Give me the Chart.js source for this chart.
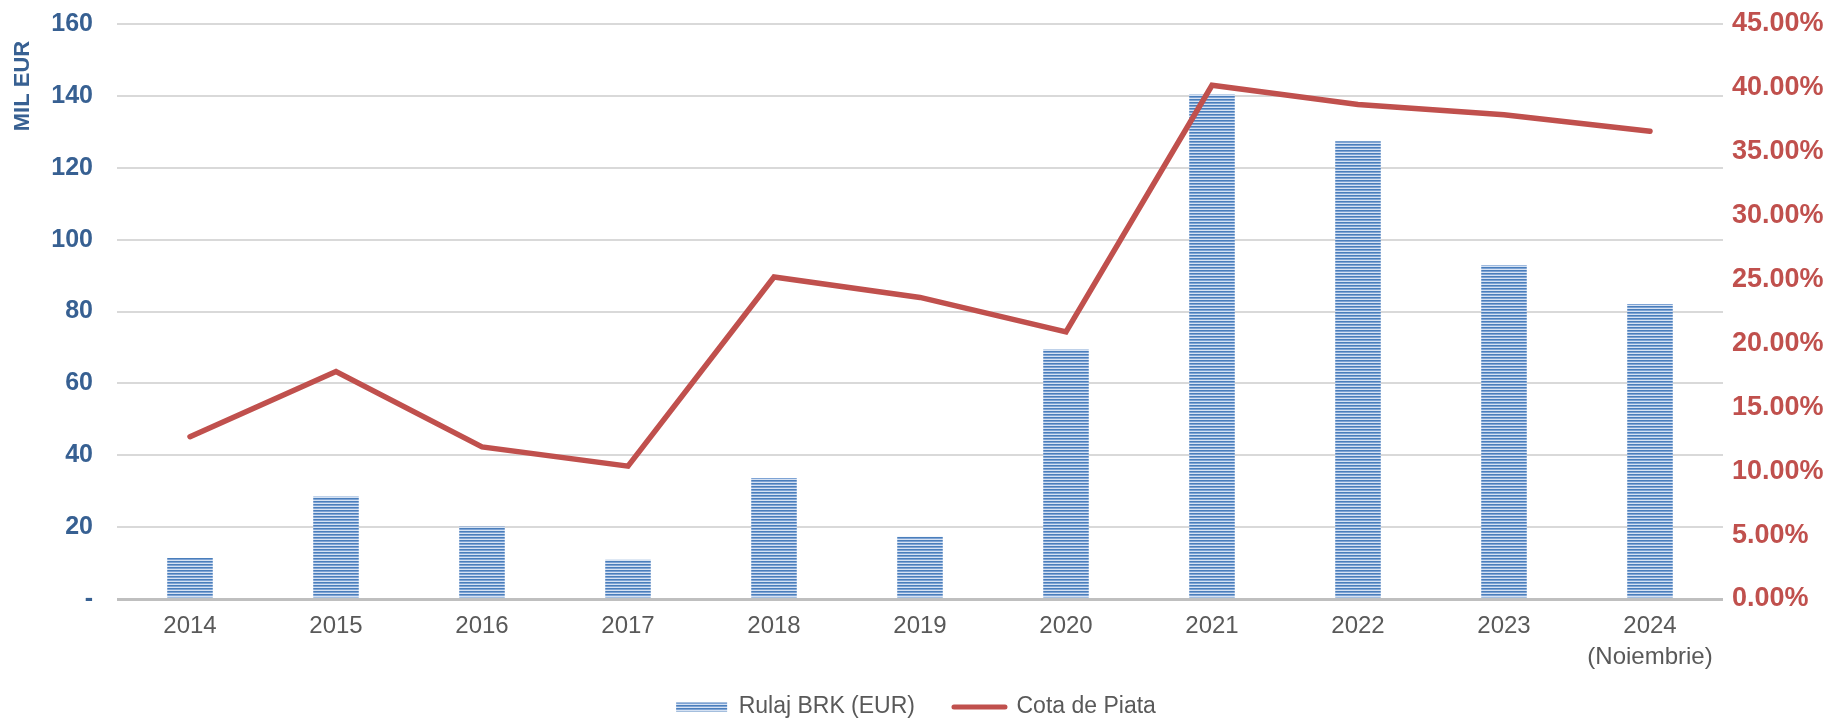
<!DOCTYPE html>
<html>
<head>
<meta charset="utf-8">
<script src="https://cdn.jsdelivr.net/npm/chart.js@4/dist/chart.umd.min.js"></script>
<style>
  html, body { margin: 0; padding: 0; background: #ffffff; }
  #wrap { width: 1832px; height: 721px; position: relative; }
</style>
</head>
<body>
<div id="wrap"><canvas id="c" width="1832" height="721"></canvas></div>
<script>
// ---- Data ----
const categories = ['2014', '2015', '2016', '2017', '2018', '2019', '2020', '2021', '2022', '2023', ['2024', '(Noiembrie)']];
const rulajBRK = [11.4, 28.5, 20.2, 10.9, 33.7, 17.3, 69.4, 140.4, 127.4, 92.9, 82.1];
const cotaPiata = [12.7, 17.8, 11.9, 10.4, 25.2, 23.6, 20.9, 40.2, 38.7, 37.9, 36.6];
const seriesNames = ['Rulaj BRK (EUR)', 'Cota de Piata'];
const leftAxisTitle = 'MIL EUR';

// ---- Styles ----
const BLUE_TXT = '#376092';
const RED = '#c0504d';
const GRAY_TXT = '#595959';
const FONT = "'Liberation Sans', Arial, sans-serif";

function makeStripePattern() {
  const c = document.createElement('canvas');
  c.width = 4; c.height = 3;
  const g = c.getContext('2d');
  const rows = ['#4a7ebb', '#7ea3d4', '#d6e2f3'];
  rows.forEach((col, i) => { g.fillStyle = col; g.fillRect(0, i, 4, 1); });
  return g.createPattern(c, 'repeat');
}
const stripes = makeStripePattern();

const axisTitlePlugin = {
  id: 'axisTitle',
  afterLayout(chart) {
    const lg = chart.legend;
    if (lg) {
      const h = lg.height;
      const pad = lg.options.labels.padding;
      const itemH = lg.options.labels.font.size;
      const top = 707 - pad - itemH / 2;
      lg.top = top; lg.bottom = top + h;
    }
  },
  afterDraw(chart) {
    const ctx = chart.ctx;
    ctx.save();
    ctx.translate(23, 86);
    ctx.rotate(-Math.PI / 2);
    ctx.font = 'bold 22px ' + FONT;
    ctx.fillStyle = BLUE_TXT;
    ctx.textAlign = 'center';
    ctx.textBaseline = 'middle';
    ctx.fillText(leftAxisTitle, 0, 0);
    ctx.restore();
  }
};

const noVPad = (s) => { s.paddingTop = 0; s.paddingBottom = 0; };

new Chart(document.getElementById('c'), {
  type: 'bar',
  data: {
    labels: categories,
    datasets: [
      {
        type: 'bar',
        label: seriesNames[0],
        data: rulajBRK,
        yAxisID: 'y',
        backgroundColor: stripes,
        borderWidth: 0,
        barPercentage: 0.312,
        categoryPercentage: 1.0,
        order: 2
      },
      {
        type: 'line',
        label: seriesNames[1],
        data: cotaPiata,
        yAxisID: 'y1',
        borderColor: RED,
        backgroundColor: RED,
        borderWidth: 5.5,
        pointRadius: 0,
        pointHoverRadius: 0,
        tension: 0,
        borderCapStyle: 'round',
        borderJoinStyle: 'miter',
        order: 1
      }
    ]
  },
  options: {
    responsive: false,
    animation: false,
    devicePixelRatio: 1,
    layout: { padding: { top: 24, left: 0, right: 0, bottom: -30 } },
    plugins: {
      tooltip: { enabled: false },
      legend: {
        position: 'bottom',
        labels: {
          usePointStyle: true,
          pointStyleWidth: 51,
          boxHeight: 9,
          padding: 39,
          color: GRAY_TXT,
          font: { family: FONT, size: 23 },
          generateLabels: () => [
            { text: seriesNames[0], fillStyle: stripes, strokeStyle: 'rgba(0,0,0,0)', lineWidth: 0, pointStyle: 'rect', datasetIndex: 0, fontColor: GRAY_TXT },
            { text: seriesNames[1], fillStyle: RED, strokeStyle: RED, lineWidth: 5, lineCap: 'round', pointStyle: 'line', datasetIndex: 1, fontColor: GRAY_TXT }
          ]
        }
      }
    },
    scales: {
      x: {
        offset: true,
        grid: { display: false, drawTicks: false },
        border: { display: false },
        ticks: {
          color: GRAY_TXT,
          font: { family: FONT, size: 24, lineHeight: 1.3 },
          padding: 12,
          maxRotation: 0,
          autoSkip: false
        },
        afterFit: (s) => { s.height = 80; }
      },
      y: {
        position: 'left',
        min: 0, max: 160,
        ticks: {
          stepSize: 20,
          color: BLUE_TXT,
          font: { family: FONT, size: 25, weight: 'bold' },
          padding: 24,
          callback: (v) => v === 0 ? '-' : String(v)
        },
        grid: {
          drawTicks: false,
          color: (c) => c.tick && c.tick.value === 0 ? '#bfbfbf' : '#d9d9d9',
          lineWidth: (c) => c.tick && c.tick.value === 0 ? 3 : 2
        },
        border: { display: false },
        afterFit: (s) => { s.width = 117; noVPad(s); }
      },
      y1: {
        position: 'right',
        min: 0, max: 45,
        ticks: {
          stepSize: 5,
          color: RED,
          font: { family: FONT, size: 27, weight: 'bold' },
          padding: 9,
          callback: (v) => v.toFixed(2) + '%'
        },
        grid: { display: false, drawTicks: false },
        border: { display: false },
        afterFit: (s) => { s.width = 109; noVPad(s); }
      }
    }
  },
  plugins: [axisTitlePlugin]
});
</script>
</body>
</html>
